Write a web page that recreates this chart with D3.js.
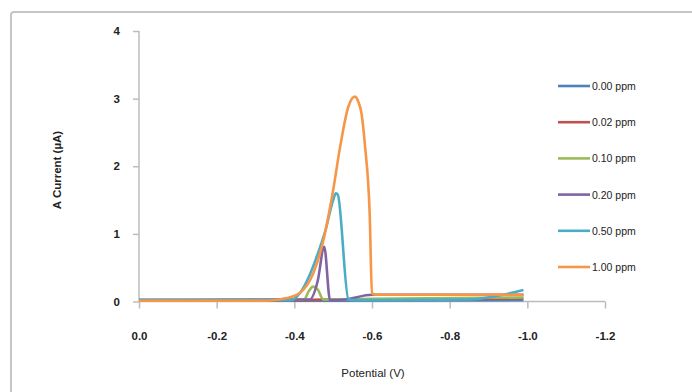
<!DOCTYPE html>
<html>
<head>
<meta charset="utf-8">
<script src="https://cdn.jsdelivr.net/npm/d3@7"></script>
<style>
  body { margin: 0; background: #fff; }
  svg text { font-family: "Liberation Sans", Arial, sans-serif; fill: #222; }
</style>
</head>
<body>
<div id="viz"></div>
<script>
// series: potential (V) and current (uA)
var seriesNames = ['0.00 ppm', '0.02 ppm', '0.10 ppm', '0.20 ppm', '0.50 ppm', '1.00 ppm'];
var seriesColors = ['#4f81bd', '#c0504d', '#9bbb59', '#8064a2', '#4bacc6', '#f79646'];

var ppm000X = [0, -0.5, -0.99];
var ppm000Y = [0.01, 0.01, 0.02];

var ppm002X = [0, -0.43, -0.47, -0.7, -0.99];
var ppm002Y = [0.02, 0.02, 0.03, 0.03, 0.05];

var ppm010X = [0, -0.425, -0.437, -0.448, -0.46, -0.475, -0.6, -0.99];
var ppm010Y = [0.02, 0.03, 0.15, 0.22, 0.18, 0.03, 0.04, 0.06];

var ppm020X = [0, -0.44, -0.46, -0.477, -0.492, -0.53, -0.6, -0.99];
var ppm020Y = [0.02, 0.03, 0.3, 0.81, 0.02, 0.03, 0.1, 0.1];

var ppm050X = [0, -0.39, -0.415, -0.44, -0.46, -0.48, -0.5, -0.507, -0.512, -0.539, -0.55, -0.85, -0.92, -0.99];
var ppm050Y = [0.02, 0.02, 0.13, 0.4, 0.7, 1.05, 1.5, 1.6, 1.58, 0.04, 0.02, 0.03, 0.08, 0.17];

var ppm100X = [0, -0.33, -0.38, -0.415, -0.449, -0.475, -0.5, -0.518, -0.539, -0.556, -0.565, -0.573, -0.582, -0.594, -0.6, -0.61, -0.99];
var ppm100Y = [0.01, 0.01, 0.05, 0.13, 0.42, 0.91, 1.65, 2.29, 2.88, 3.03, 2.95, 2.78, 2.3, 1.3, 0.12, 0.1, 0.1];

var xTicks = [0, -0.2, -0.4, -0.6, -0.8, -1.0, -1.2];
var yTicks = [0, 1, 2, 3, 4];

var allX = [ppm000X, ppm002X, ppm010X, ppm020X, ppm050X, ppm100X];
var allY = [ppm000Y, ppm002Y, ppm010Y, ppm020Y, ppm050Y, ppm100Y];

var width = 692, height = 392;
var svg = d3.select('#viz').append('svg')
  .attr('width', width)
  .attr('height', height);

// outer chart border
svg.append('rect')
  .attr('x', 11).attr('y', 12)
  .attr('width', 700).attr('height', 400)
  .attr('rx', 3)
  .attr('fill', '#fff')
  .attr('stroke', '#c6c6c6')
  .attr('stroke-width', 2);

var xScale = d3.scaleLinear().domain([0, -1.2]).range([139, 605]);
var yScale = d3.scaleLinear().domain([0, 4]).range([301.5, 31]);

var yAxis = d3.axisLeft(yScale).tickValues(yTicks).tickSize(6).tickPadding(13)
  .tickFormat(d3.format('d'));
var xAxis = d3.axisBottom(xScale).tickValues(xTicks).tickSize(7).tickPadding(23)
  .tickFormat(d3.format('.1f'));

var yGuide = svg.append('g').attr('transform', 'translate(' + xScale(0) + ',0)').call(yAxis);
var xGuide = svg.append('g').attr('transform', 'translate(0,' + yScale(0) + ')').call(xAxis);

[yGuide, xGuide].forEach(function(g) {
  g.selectAll('path,line').attr('stroke', '#bcbcbc').attr('stroke-width', 1.5);
  g.selectAll('text').style('font-size', '11.5px').style('font-weight', 'bold').attr('fill', '#222');
});
xGuide.select('.domain').attr('d', 'M' + xScale(0) + ',0H' + xScale(-1.2));
yGuide.select('.domain').attr('d', 'M0,' + yScale(4) + 'V' + yScale(0));
xGuide.selectAll('text').text(function(d) { return d3.format('.1f')(d).replace('−', '-'); });

var line = d3.line()
  .x(function(d) { return xScale(d[0]); })
  .y(function(d) { return yScale(d[1]); })
  .curve(d3.curveMonotoneX);

seriesNames.forEach(function(name, i) {
  var pts = allX[i].map(function(x, j) { return [x, allY[i][j]]; });
  svg.append('path')
    .datum(pts)
    .attr('d', line)
    .attr('fill', 'none')
    .attr('stroke', seriesColors[i])
    .attr('stroke-width', 2.6)
    .attr('stroke-linejoin', 'round');
});

// legend
var legend = svg.append('g');
seriesNames.forEach(function(name, i) {
  var y = 86 + i * 36.2;
  legend.append('line')
    .attr('x1', 558).attr('x2', 590)
    .attr('y1', y).attr('y2', y)
    .attr('stroke', seriesColors[i]).attr('stroke-width', 2.6);
  legend.append('text')
    .attr('x', 592).attr('y', y + 4)
    .style('font-size', '10.5px')
    .text(name);
});

// axis titles
svg.append('text')
  .attr('x', 373).attr('y', 377)
  .attr('text-anchor', 'middle')
  .style('font-size', '11.5px')
  .text('Potential (V)');

svg.append('text')
  .attr('transform', 'translate(61,170) rotate(-90)')
  .attr('text-anchor', 'middle')
  .style('font-size', '11.5px')
  .style('font-weight', 'bold')
  .text('A Current (\u00b5A)');
</script>
</body>
</html>
